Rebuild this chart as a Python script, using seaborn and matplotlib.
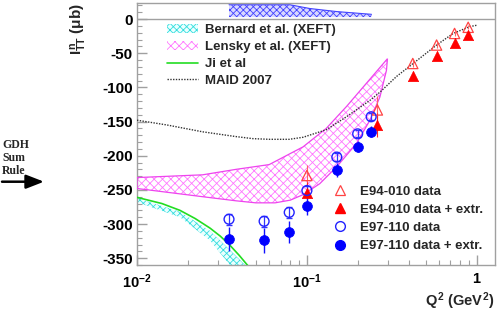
import matplotlib
matplotlib.use("Agg")
import matplotlib.pyplot as plt
import seaborn as sns
from matplotlib.patches import Patch
from matplotlib.lines import Line2D
from matplotlib.ticker import MultipleLocator, FixedLocator, FixedFormatter, LogLocator, NullFormatter

# ---------------- data ----------------
e97_q2 = [0.0348, 0.056, 0.0787, 0.100, 0.150, 0.199, 0.239]
e97_data = [-293, -296, -283, -251, -202, -168, -143]
e97_data_err = [8, 8, 8, 7, 6, 5, 5]
e97_extr = [-322, -324, -312, -273, -221, -187, -165]
e97_extr_err = [18, 18, 16, 14, 10, 8, 8]

e94_q2 = [0.100, 0.260, 0.420, 0.580, 0.740, 0.890]
e94_data = [-229, -133, -65, -38, -21, -12]
e94_data_err = [16, 20, 5, 4, 4, 3]
e94_extr = [-254, -155, -83, -54, -35, -23]
e94_extr_err = [16, 18, 6, 5, 4, 4]

maid_q2 = [0.01, 0.015, 0.0243, 0.0382, 0.048, 0.06, 0.0787, 0.095, 0.13, 0.171, 0.235,
           0.269, 0.337, 0.422, 0.58, 0.726, 0.91, 1.0]
maid_val = [-148, -155, -165, -172, -175, -176, -176, -173, -162, -143, -119,
            -107, -84, -65, -38, -21, -11, -9]

ji_q2 = [0.01, 0.014, 0.0179, 0.022, 0.0269, 0.031, 0.0352, 0.040, 0.046]
ji_val = [-261, -270, -280, -292, -306, -318, -331, -346, -364]

bern_q2 = [0.01, 0.0179, 0.0269, 0.0352, 0.0432, 0.046]
bern_hi = [-262, -282, -310, -338, -360, -368]
bern_lo = [-268, -290, -324, -360, -380, -390]

lensky_hi_q2 = [0.01, 0.0243, 0.0382, 0.06, 0.095, 0.13, 0.171, 0.224, 0.298]
lensky_hi = [-232, -228, -220, -213, -187, -160, -128, -94, -58]
lensky_lo_q2 = [0.01, 0.0243, 0.0382, 0.05, 0.065, 0.08, 0.095, 0.119, 0.15, 0.196,
                0.235, 0.269, 0.294, 0.298]
lensky_lo = [-248, -260, -266, -269, -269, -265, -257, -241, -216, -182,
             -148, -114, -75, -58]

syst_q2 = [0.0348, 0.0794, 0.104, 0.15, 0.24]
syst_hi = [21, 21, 15.5, 11, 7]
syst_lo = [3, 3, 3, 3, 3]

# ---------------- style ----------------
sns.set_theme(style="ticks")
plt.rcParams["font.family"] = ["Liberation Sans", "DejaVu Sans"]
plt.rcParams["mathtext.fontset"] = "custom"
plt.rcParams["mathtext.rm"] = "Liberation Sans:bold"
plt.rcParams["mathtext.bf"] = "Liberation Sans:bold"
plt.rcParams["mathtext.it"] = "Liberation Sans:bold"
plt.rcParams["hatch.linewidth"] = 0.6

W, H = 498, 310
fig = plt.figure(figsize=(W / 100, H / 100), dpi=100)
ax = fig.add_axes([137 / W, 1 - 265 / H, 358 / W, 262.3 / H])
ax.set_xscale("log")
ax.set_xlim(0.01, 1.28)
ax.set_ylim(-360, 24)

frame = "#a0a0a0"
for s in ax.spines.values():
    s.set_color(frame)
    s.set_linewidth(1.0)

ax.axhline(0, color=frame, lw=1.0, zorder=1)

# systematic band at top
ax.fill_between(syst_q2, syst_lo, syst_hi, facecolor="#d8d8ff", edgecolor="#4444ff",
                hatch="xxxxx", linewidth=0, zorder=2)
ax.plot(syst_q2, syst_hi, color="#4444ff", lw=0.8, zorder=2)

# Bernard band
ax.fill_between(bern_q2, bern_lo, bern_hi, facecolor="#eaffff", edgecolor="#33dddd",
                hatch="xxxxx", linewidth=0, zorder=2)

# Lensky band (polygon)
poly_x = lensky_hi_q2 + lensky_lo_q2[::-1]
poly_y = lensky_hi + lensky_lo[::-1]
ax.fill(poly_x, poly_y, facecolor="white", edgecolor="#ff77ff", hatch="xxxx",
        linewidth=0, zorder=2)
ax.fill(poly_x, poly_y, facecolor="none", edgecolor="#ee44ee", linewidth=0.9, zorder=3)

# curves
sns.lineplot(x=ji_q2, y=ji_val, color="#22dd22", lw=1.2, ax=ax, zorder=4, sort=False)
sns.lineplot(x=maid_q2, y=maid_val, color="#333333", lw=1.0, ls=(0, (1, 1)), ax=ax,
             zorder=4, sort=False)

# error bars
ax.errorbar(e94_q2, e94_data, yerr=e94_data_err, fmt="none", ecolor="#ff6666",
            elinewidth=0.8, ls=":", zorder=5)
ax.errorbar(e94_q2, e94_extr, yerr=e94_extr_err, fmt="none", ecolor="#ff2222",
            elinewidth=0.8, zorder=5)
ax.errorbar(e97_q2, e97_data, yerr=e97_data_err, fmt="none", ecolor="#3333ff",
            elinewidth=0.9, capsize=2.5, zorder=5)
ax.errorbar(e97_q2, e97_extr, yerr=e97_extr_err, fmt="none", ecolor="#1111ff",
            elinewidth=1.0, zorder=5)

# markers
sns.scatterplot(x=e94_q2, y=e94_data, marker="^", s=55, facecolor="none",
                edgecolor="#ff4444", linewidth=0.9, ax=ax, zorder=6)
sns.scatterplot(x=e94_q2, y=e94_extr, marker="^", s=55, color="red", edgecolor="red",
                linewidth=0.5, ax=ax, zorder=6)
sns.scatterplot(x=e97_q2, y=e97_data, marker="o", s=50, facecolor="none",
                edgecolor="#2222ff", linewidth=1.0, ax=ax, zorder=6)
sns.scatterplot(x=e97_q2, y=e97_extr, marker="o", s=50, color="blue", edgecolor="blue",
                linewidth=0.5, ax=ax, zorder=6)

# ticks
ax.yaxis.set_major_locator(MultipleLocator(50))
ax.yaxis.set_minor_locator(MultipleLocator(10))
ax.xaxis.set_major_locator(FixedLocator([0.01, 0.1, 1.0]))
ax.xaxis.set_major_formatter(FixedFormatter([r"$10^{-2}$", r"$10^{-1}$", r"$1$"]))
ax.xaxis.set_minor_locator(LogLocator(base=10, subs=range(2, 10), numticks=20))
ax.xaxis.set_minor_formatter(NullFormatter())
ax.tick_params(axis="both", which="both", direction="in", color=frame,
               top=False, right=False)
ax.tick_params(axis="both", which="major", length=7, width=1, labelcolor="black")
ax.tick_params(axis="x", which="major", labelsize=10.5, pad=5)
ax.tick_params(axis="y", which="major", labelsize=11, pad=3)
ax.tick_params(axis="both", which="minor", length=3.5, width=0.8)
yt = [v for v in range(-350, 1, 50)]
ax.set_yticks(yt)
ax.set_yticklabels([str(v) for v in yt], fontweight="bold")

ax.set_xlabel(r"$Q^{2}$ $(GeV^{2})$", fontsize=10.5)
ax.xaxis.set_label_coords(1.0, -0.095)
ax.xaxis.label.set_ha("right")
ax.set_ylabel(r"$I^{n}_{TT}$ (μb)", fontsize=11, fontweight="bold")
ax.yaxis.set_label_coords(-0.135, 1.0)
ax.yaxis.label.set_va("bottom")
ax.yaxis.label.set_ha("right")

# legends
h1 = [Patch(facecolor="#eaffff", edgecolor="#33dddd", hatch="xxxxx", linewidth=0),
      Patch(facecolor="white", edgecolor="#ff77ff", hatch="xxxx", linewidth=0),
      Line2D([], [], color="#22dd22", lw=1.2),
      Line2D([], [], color="#333333", lw=1.0, ls=(0, (1, 1)))]
l1 = ["Bernard et al. (ΧEFT)", "Lensky et al. (ΧEFT)", "Ji et al", "MAID 2007"]
leg1 = ax.legend(h1, l1, loc="upper left", bbox_to_anchor=(0.083, 0.918), frameon=False,
                 borderpad=0, borderaxespad=0, handlelength=2.4, handleheight=0.7,
                 handletextpad=0.5, labelspacing=0.35, prop={"weight": "bold", "size": 9.5})
ax.add_artist(leg1)

h2 = [Line2D([], [], ls="none", marker="^", ms=7.5, mfc="none", mec="#ff4444", mew=0.9),
      Line2D([], [], ls="none", marker="^", ms=7.5, mfc="red", mec="red"),
      Line2D([], [], ls="none", marker="o", ms=7, mfc="none", mec="#2222ff", mew=1.0),
      Line2D([], [], ls="none", marker="o", ms=7, mfc="blue", mec="blue")]
l2 = ["E94-010 data", "E94-010 data + extr.", "E97-110 data", "E97-110 data + extr."]
ax.legend(h2, l2, loc="upper left", bbox_to_anchor=(0.55, 0.303), frameon=False,
          borderpad=0, borderaxespad=0, handlelength=1.0, handletextpad=1.0,
          labelspacing=0.45, prop={"weight": "bold", "size": 9.5})

# GDH sum rule annotation
for txt, yy in [("GDH", 145), ("Sum", 158), ("Rule", 171)]:
    fig.text(2 / W, 1 - yy / H, txt, family="Liberation Serif", weight="bold",
             fontsize=8.5, va="center", ha="left")
ax.annotate("", xy=(44 / W, 1 - 181.7 / H), xycoords="figure fraction",
            xytext=(2 / W, 1 - 181.7 / H), textcoords="figure fraction",
            arrowprops=dict(arrowstyle="-|>,head_length=0.9,head_width=0.35", color="black",
                            lw=1.8, shrinkA=0, shrinkB=0), annotation_clip=False)

fig.savefig("out.png", dpi=100)
